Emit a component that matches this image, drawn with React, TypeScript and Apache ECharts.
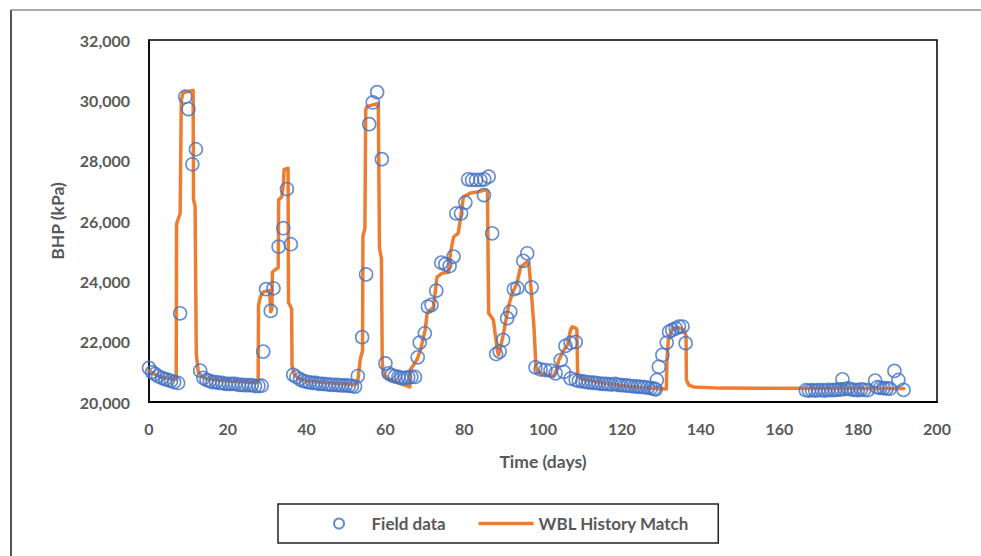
import React, { useEffect, useRef } from "react";
import * as echarts from "echarts";

// Field data (days, BHP kPa)
const fieldDays = [
  0, 0.8, 1.5, 2.3, 3.3, 4.1, 4.8, 5.6, 6.4, 7.4,
  7.9, 9.2, 10.0, 11.0, 11.9,
  13.0, 13.8, 14.6, 15.4, 16.1, 17.0, 17.8, 18.6, 19.4, 20.3, 21.1, 21.9, 22.8, 23.6, 24.4, 25.3, 26.1, 26.9, 27.8, 28.6,
  29.0, 29.7, 30.9, 31.6, 32.9, 34.1, 35.0, 36.0,
  36.6, 37.4, 38.3, 39.1, 39.9, 40.7, 41.6, 42.4, 43.2, 44.0, 44.9, 45.7, 46.5, 47.4, 48.2, 49.0, 49.9, 50.7, 51.5, 52.3,
  53.0, 54.1, 55.1, 55.9, 56.8, 57.9, 59.1,
  60.0, 60.8, 61.6, 62.4, 63.3, 64.1, 65.0, 65.8, 66.6, 67.5,
  68.2, 68.7, 70.0, 70.8, 71.7, 72.9, 74.2, 75.2, 76.3, 77.3, 78.0, 79.2, 80.3, 81.0, 82.0, 83.0, 84.1, 85.0, 85.1, 86.2,
  87.1, 88.1, 89.0, 89.9, 90.9, 91.7, 92.6, 93.5, 95.0, 96.0, 97.1,
  98.1, 99.4, 100.6, 101.9, 103.2,
  104.5, 105.7, 107.0, 108.3,
  105.3, 107.0, 108.3, 109.1, 110.0, 110.8, 111.6, 112.5, 113.3, 114.1, 115.0, 115.8, 116.6, 117.4, 118.3, 119.1, 119.9,
  120.8, 121.6, 122.4, 123.3, 124.1, 124.9, 125.7, 126.6, 127.4, 128.2, 128.6,
  128.9, 129.4, 130.3, 131.4, 132.0, 132.8, 133.7, 134.5, 135.4, 136.2,
  166.7, 167.5, 168.3, 169.1, 169.9, 170.8, 171.6, 172.4, 173.3, 174.1, 174.9, 175.7, 176.6, 177.4, 178.2, 179.0, 179.9,
  180.7, 181.5, 182.4, 176.0,
  184.3, 184.8, 185.6, 186.4, 187.2, 188.0, 189.2, 190.2, 191.5,
];
const fieldBhp = [
  21130, 20990, 20930, 20860, 20800, 20760, 20730, 20700, 20660, 20630,
  22940, 30120, 29710, 27880, 28380,
  21040, 20800, 20730, 20700, 20660, 20660, 20630, 20630, 20600, 20600, 20600, 20600, 20570, 20570, 20560, 20560, 20560, 20530, 20530, 20540,
  21670, 23740, 23020, 23770, 25150, 25760, 27060, 25230,
  20900, 20830, 20760, 20700, 20670, 20650, 20630, 20630, 20600, 20600, 20590, 20580, 20570, 20570, 20560, 20550, 20550, 20540, 20530, 20510,
  20860, 22150, 24230, 29210, 29930, 30270, 28050,
  21280, 20950, 20890, 20850, 20830, 20800, 20800, 20820, 20830, 20830,
  21480, 21970, 22280, 23160, 23220, 23690, 24620, 24570, 24510, 24820, 26250, 26250, 26610, 27380, 27360, 27360, 27360, 26860, 27380, 27470,
  25590, 21590, 21670, 22060, 22780, 22990, 23740, 23780, 24680, 24930, 23800,
  21150, 21080, 21060, 21040, 20950,
  21390, 21860, 21960, 21990,
  21000, 20780, 20730, 20700, 20680, 20670, 20650, 20640, 20630, 20620, 20600, 20600, 20590, 20580, 20600, 20570, 20560,
  20550, 20540, 20530, 20520, 20510, 20500, 20490, 20480, 20460, 20440, 20420,
  20730, 21170, 21560, 21970, 22330, 22390, 22440, 22500, 22500, 21950,
  20390, 20380, 20390, 20380, 20390, 20390, 20380, 20400, 20390, 20400, 20410, 20420, 20430, 20450, 20420, 20400, 20390,
  20420, 20400, 20390, 20750,
  20710, 20490, 20470, 20460, 20450, 20440, 21030, 20730, 20400,
];

// WBL History Match (days, BHP kPa)
const matchDays = [
  0, 1, 2, 3, 4, 5, 6, 6.9,
  7.0, 7.5, 7.9, 8.2, 8.6, 11.2,
  11.3, 11.7, 12.0, 12.5, 13.3, 15, 20, 25, 27.7,
  27.8, 28.3, 29.0, 30.6, 30.9, 31.2, 31.3, 32.2, 32.8, 32.9, 33.7, 34.1, 34.3, 35.3, 35.4, 36.2, 36.3, 36.9, 38, 40, 45, 50, 52.5,
  53.0, 53.6, 54.2, 54.3, 54.8, 55.0, 55.4, 58.2, 58.5, 59.0, 59.2, 59.6, 61, 63, 66.2,
  66.3, 68, 68.9, 70.1, 70.6, 72.2, 73.1, 74.4, 76, 76.5, 77.3, 78.5, 79, 79.8, 81.6, 83.3, 85.4, 85.9,
  86.2, 87.4, 88.4, 88.7, 89.2, 90, 91.2, 92.2, 93.4, 94.3, 96, 96.4, 97.0, 97.7, 98.2, 98.6, 101, 102.7,
  103.5, 104, 105.3, 106.2, 107.0, 107.4, 108.3, 108.6, 108.8, 110, 115, 120, 125, 131.3,
  131.5, 131.8, 132.9, 134.9, 135.7, 136.3, 136.4, 137, 138.2, 145, 191.6,
];
const matchBhp = [
  21050, 20950, 20880, 20830, 20800, 20780, 20760, 20750,
  25900, 26100, 26250, 30000, 30250, 30330,
  26700, 26500, 21600, 21000, 20850, 20760, 20700, 20660, 20640,
  23200, 23500, 23650, 23700, 22990, 23100, 24300, 24400, 24450, 26700, 26800, 27200, 27700, 27750, 23300, 23100, 21200, 20900, 20780, 20700, 20640, 20600, 20580,
  20700, 21400, 21700, 25500, 25750, 29700, 29800, 29900, 25100, 24750, 21300, 20900, 20750, 20640, 20500,
  21060, 21400, 21720, 22390, 22950, 23150, 24140, 24270, 24300, 24940, 25470, 25600, 26030, 26800, 26930, 26960, 27030, 27000,
  22950, 22720, 21720, 21560, 21800, 22290, 23150, 23610, 23940, 24470, 24650, 24600, 23700, 22500, 21200, 21000, 20900, 20850,
  21100, 21390, 21720, 21890, 22390, 22490, 22450, 22400, 20850, 20750, 20640, 20550, 20480, 20430,
  21500, 22050, 22450, 22450, 22390, 22200, 20730, 20560, 20500, 20460, 20450,
];

const xTicks = [0, 20, 40, 60, 80, 100, 120, 140, 160, 180, 200];
const yTicks = [20000, 22000, 24000, 26000, 28000, 30000, 32000];

const FONT = "Lato, 'Open Sans', sans-serif";
const GRAY = "#595959";

export default function App() {
  const ref = useRef<HTMLDivElement>(null);
  useEffect(() => {
    if (!ref.current) return;
    const chart = echarts.init(ref.current, undefined, { renderer: "svg" });
    const field = fieldDays.map((d, i) => [d, fieldBhp[i]]);
    const match = matchDays.map((d, i) => [d, matchBhp[i]]);
    chart.setOption({
      animation: false,
      backgroundColor: "#ffffff",
      textStyle: { fontFamily: FONT },
      grid: {
        left: 149,
        top: 40,
        width: 788,
        height: 362,
        show: true,
        borderColor: "#000",
        borderWidth: 1.5,
        backgroundColor: "transparent",
      },
      xAxis: {
        type: "value",
        min: xTicks[0],
        max: xTicks[xTicks.length - 1],
        interval: xTicks[1] - xTicks[0],
        name: "Time (days)",
        nameLocation: "middle",
        nameGap: 50,
        nameTextStyle: { color: GRAY, fontSize: 17.5, fontWeight: "bold", fontFamily: FONT },
        axisLine: { show: true, onZero: false, lineStyle: { color: "#000", width: 2 } },
        axisTick: { show: false },
        splitLine: { show: false },
        axisLabel: { color: GRAY, fontSize: 16, fontWeight: "bold", fontFamily: FONT, margin: 18 },
      },
      yAxis: {
        type: "value",
        min: yTicks[0],
        max: yTicks[yTicks.length - 1],
        interval: yTicks[1] - yTicks[0],
        name: "BHP (kPa)",
        nameLocation: "middle",
        nameRotate: 90,
        nameGap: 83,
        nameTextStyle: { color: GRAY, fontSize: 17.5, fontWeight: "bold", fontFamily: FONT },
        axisLine: { show: true, lineStyle: { color: "#000", width: 1.5 } },
        axisTick: { show: false },
        splitLine: { show: false },
        axisLabel: {
          color: GRAY,
          fontSize: 16,
          fontWeight: "bold",
          fontFamily: FONT,
          margin: 19,
          formatter: (v: number) => v.toLocaleString("en-US"),
        },
      },
      legend: {
        left: 278,
        top: 504,
        orient: "horizontal",
        padding: [11, 29, 11, 55],
        itemGap: 33,
        itemWidth: 55,
        itemHeight: 10,
        borderColor: "#222",
        borderWidth: 1.5,
        textStyle: { color: GRAY, fontSize: 17, fontWeight: "bold", fontFamily: FONT },
        data: [
          { name: "Field data" },
          { name: "WBL History Match", icon: "path://M0,0 L55,0 L55,3.5 L0,3.5 Z" },
        ],
      },
      series: [
        {
          name: "WBL History Match",
          type: "line",
          data: match,
          symbol: "none",
          showSymbol: false,
          z: 2,
          lineStyle: { color: "#ED7D31", width: 3.5, join: "round", cap: "round" },
          itemStyle: { color: "#ED7D31" },
        },
        {
          name: "Field data",
          type: "scatter",
          data: field,
          symbol: "circle",
          symbolSize: 13,
          z: 3,
          itemStyle: { color: "rgba(255,255,255,0)", borderColor: "#4472C4", borderWidth: 1.6 },
        },
      ],
      graphic: [
        { type: "line", shape: { x1: 11, y1: 10, x2: 981, y2: 10 }, style: { stroke: "#aaaaaa", lineWidth: 2 } },
        { type: "line", shape: { x1: 11, y1: 10, x2: 11, y2: 556 }, style: { stroke: "#555555", lineWidth: 2 } },
      ],
    });
    return () => chart.dispose();
  }, []);
  return <div ref={ref} style={{ width: 981, height: 556, position: "absolute", left: 0, top: 0 }} />;
}
